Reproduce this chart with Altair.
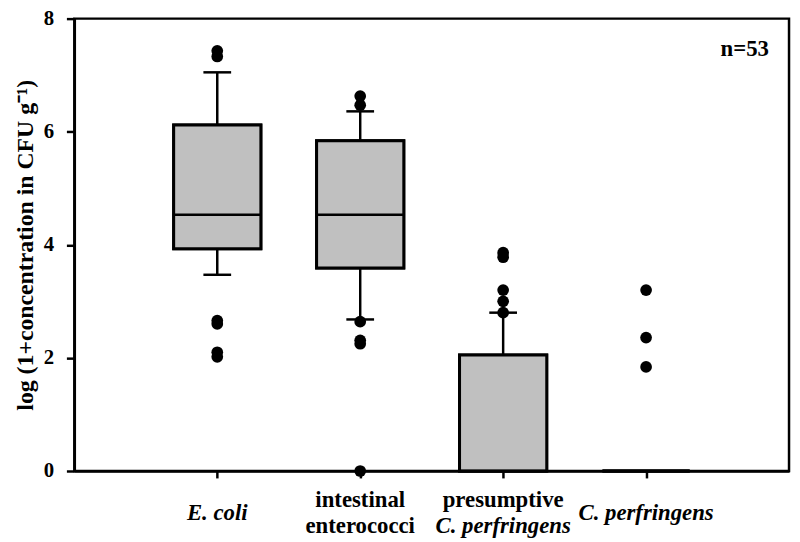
import altair as alt
import pandas as pd

# ---- data ----
positions = [1, 2, 3, 4]
q1 = [3.93, 3.59, 0.0, 0.0]
median = [4.53, 4.53, 0.0, 0.0]
q3 = [6.12, 5.84, 2.05, 0.0]
whisker_low = [3.47, 2.68, None, None]
whisker_high = [7.05, 6.36, 2.80, None]

out_ecoli = [7.43, 7.33, 2.66, 2.60, 2.10, 2.02]
out_entero = [6.63, 6.47, 2.64, 2.31, 2.25, 0.0]
out_presumptive = [3.86, 3.78, 3.20, 3.00, 2.80]
out_cperf = [3.20, 2.36, 1.84]

y_ticks = [0, 2, 4, 6, 8]

FONT = "Liberation Serif"
BOX_HALF = 0.305
CAP_HALF = 0.097

box_df = pd.DataFrame({"pos": positions, "q1": q1, "med": median, "q3": q3,
                       "wlo": whisker_low, "whi": whisker_high})
box_df["xl"] = box_df["pos"] - BOX_HALF
box_df["xr"] = box_df["pos"] + BOX_HALF
box_df["cl"] = box_df["pos"] - CAP_HALF
box_df["cr"] = box_df["pos"] + CAP_HALF

rows = []
for p, vals in zip(positions, [out_ecoli, out_entero, out_presumptive, out_cperf]):
    for v in vals:
        rows.append({"pos": p, "val": v})
out_df = pd.DataFrame(rows)

xs = alt.Scale(domain=[0, 5], nice=False, zero=False)
ys = alt.Scale(domain=[0, 8], nice=False)

X = alt.X("pos:Q", scale=xs,
          axis=alt.Axis(values=positions, labels=False, title=None, tickSize=7,
                        tickWidth=2.5, domainWidth=2.5, domainColor="black",
                        tickColor="black", grid=False))
Y = alt.Y("q1:Q", scale=ys,
          axis=alt.Axis(values=y_ticks, format="d",
                        title="log (1+concentration in CFU g⁻¹)",
                        titleFont=FONT, titleFontSize=24, titleFontWeight="bold",
                        titleColor="black", titlePadding=6,
                        labelFont=FONT, labelFontSize=21, labelFontWeight="bold",
                        labelColor="black", labelPadding=13, tickSize=8,
                        tickWidth=2.5, domainWidth=2.5, domainColor="black",
                        tickColor="black", grid=False))

base = alt.Chart(box_df)

upper_w = base.transform_filter("datum.whi != null").mark_rule(
    color="black", strokeWidth=2.5).encode(x=X, y=alt.Y("q3:Q", scale=ys), y2="whi:Q")
lower_w = base.transform_filter("datum.wlo != null").mark_rule(
    color="black", strokeWidth=2.5).encode(x=alt.X("pos:Q", scale=xs),
                                           y=alt.Y("wlo:Q", scale=ys), y2="q1:Q")
cap_hi = base.transform_filter("datum.whi != null").mark_rule(
    color="black", strokeWidth=2.5).encode(x=alt.X("cl:Q", scale=xs), x2="cr:Q",
                                           y=alt.Y("whi:Q", scale=ys))
cap_lo = base.transform_filter("datum.wlo != null").mark_rule(
    color="black", strokeWidth=2.5).encode(x=alt.X("cl:Q", scale=xs), x2="cr:Q",
                                           y=alt.Y("wlo:Q", scale=ys))
boxes = base.mark_rect(fill="#c0c0c0", stroke="black", strokeWidth=3).encode(
    x=alt.X("xl:Q", scale=xs), x2="xr:Q", y=Y, y2="q3:Q")
med = base.mark_rule(color="black", strokeWidth=2.5).encode(
    x=alt.X("xl:Q", scale=xs), x2="xr:Q", y=alt.Y("med:Q", scale=ys))

points = alt.Chart(out_df).mark_circle(color="black", opacity=1, size=140).encode(
    x=alt.X("pos:Q", scale=xs), y=alt.Y("val:Q", scale=ys))

# category labels
lab_df = pd.DataFrame({
    "pos": [1, 2, 2, 3, 3, 4],
    "text": ["E. coli", "intestinal", "enterococci", "presumptive", "C. perfringens", "C. perfringens"],
    "italic": [True, False, False, False, True, True],
    "row": ["mid", "top", "bot", "top", "bot", "mid"],
})
row_y = {"top": 486, "mid": 499, "bot": 513}
label_layers = []
for r, yv in row_y.items():
    for it in [True, False]:
        label_layers.append(
            alt.Chart(lab_df).transform_filter(
                f"datum.row == '{r}' && datum.italic == {'true' if it else 'false'}")
            .mark_text(font=FONT, fontSize=23, fontWeight="bold",
                       fontStyle="italic" if it else "normal", color="black",
                       baseline="middle", align="center")
            .encode(x=alt.X("pos:Q", scale=xs), y=alt.value(yv), text="text:N"))

n_df = pd.DataFrame({"pos": [4.69], "val": [7.47], "text": ["n=53"]})
n_text = alt.Chart(n_df).mark_text(font=FONT, fontSize=23, fontWeight="bold",
                                   color="black", align="center", baseline="middle").encode(
    x=alt.X("pos:Q", scale=xs), y=alt.Y("val:Q", scale=ys), text="text:N")

chart = alt.layer(boxes, upper_w, lower_w, cap_hi, cap_lo, boxes, med, points,
                  n_text, *label_layers).properties(
    width=722, height=457,
    autosize=alt.AutoSizeParams(type="none"),
    padding={"left": 67, "top": 8, "right": 3, "bottom": 69},
).configure_view(stroke="black", strokeWidth=2.5)

chart.save("out.html", embed_options={"renderer": "svg", "actions": False})
